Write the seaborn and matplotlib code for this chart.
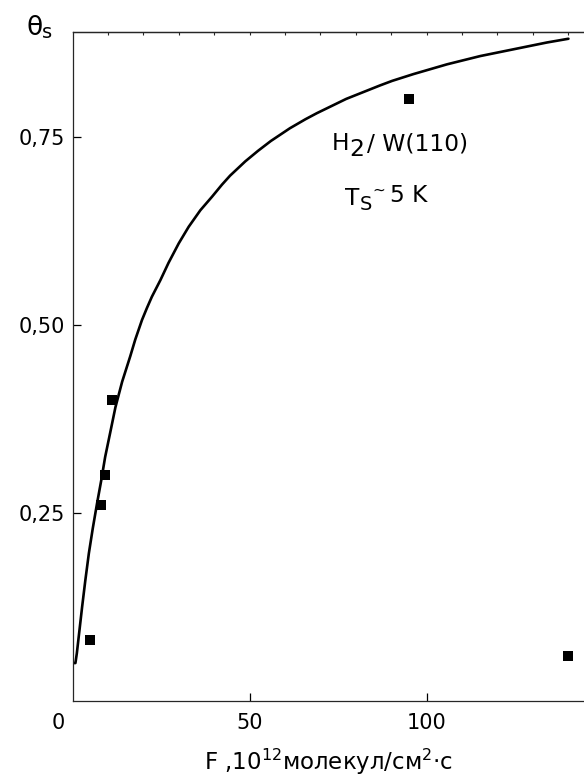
import numpy as np
import pandas as pd
import seaborn as sns
import matplotlib.pyplot as plt
import matplotlib.transforms as mtrans
from matplotlib.ticker import FixedLocator

# fitted curve
curve_F = [0, 0.8, 1.2, 2.7, 3.6, 4.6, 5.7, 6.9, 8.1, 9.2, 10.7, 12.1, 14.0,
           16.3, 17.7, 19.6, 21.0, 22.4, 24.8, 27.1, 30.0, 32.8, 36.1, 39.4,
           42.2, 44.5, 48.8, 52.4, 56.0, 61.4, 65.8, 69.0, 77.3, 86.9, 90.3,
           96.3, 105.8, 115.2, 124.6, 134.0, 140.1]
curve_theta = [0.050, 0.050, 0.063, 0.125, 0.160, 0.196, 0.229, 0.262, 0.293,
               0.324, 0.358, 0.390, 0.424, 0.458, 0.480, 0.506, 0.522, 0.537,
               0.559, 0.582, 0.608, 0.630, 0.652, 0.670, 0.686, 0.698, 0.717,
               0.731, 0.744, 0.761, 0.773, 0.781, 0.800, 0.818, 0.824, 0.833,
               0.846, 0.857, 0.866, 0.875, 0.880]

# measured points
pts_F = [4.9, 8.0, 9.2, 11.1, 95.0, 140.0]
pts_theta = [0.08, 0.26, 0.30, 0.40, 0.80, 0.06]

yticks = [0.25, 0.50, 0.75]
ytick_labels = ["0,25", "0,50", "0,75"]
xticks = [0, 50, 100]
xtick_labels = ["0", "50", "100"]
top_ticks = [10, 20, 30, 40, 50, 60, 70, 80, 90, 100, 110, 120, 130, 140]

curve = pd.DataFrame({"F": curve_F, "theta": curve_theta})
pts = pd.DataFrame({"F": pts_F, "theta": pts_theta})

sns.set_style("ticks")
plt.rcParams["font.family"] = ["DejaVu Sans"]
plt.rcParams["text.color"] = "black"
plt.rcParams["axes.labelcolor"] = "black"

fig = plt.figure(figsize=(5.84, 7.78), dpi=100)
ax = fig.add_axes([0.1243, 0.0994, 0.8757, 0.8595])

sns.lineplot(data=curve, x="F", y="theta", sort=False, estimator=None,
             color="black", linewidth=1.9, ax=ax)
sns.scatterplot(data=pts, x="F", y="theta", marker="s", s=52, color="black",
                edgecolor="black", linewidth=0, ax=ax, zorder=3)

ax.set_xlim(0, 144.5)
ax.set_ylim(0, 0.889)
ax.spines["right"].set_visible(False)
for s in ["left", "bottom", "top"]:
    ax.spines[s].set_linewidth(0.9)

ax.set_xticks(xticks)
ax.set_xticklabels(xtick_labels)
ax.set_yticks(yticks)
ax.set_yticklabels(ytick_labels)
ax.tick_params(direction="in", length=6, width=0.9, labelsize=15,
               colors="black")
ax.tick_params(axis="x", pad=9)
ax.tick_params(axis="y", pad=5.5)
ax.xaxis.get_major_ticks()[0].tick1line.set_visible(False)
# the zero label sits left of the corner
lab0 = ax.get_xticklabels()[0]
lab0.set_transform(lab0.get_transform() + mtrans.ScaledTranslation(-0.145, 0, fig.dpi_scale_trans))

top = ax.secondary_xaxis("top")
top.xaxis.set_major_locator(FixedLocator(top_ticks))
top.tick_params(direction="in", length=1.8, width=0.8, labeltop=False)
top.spines["top"].set_linewidth(0.9)

ax.set_xlabel("F ,10$^{\\mathregular{12}}$молекул/см$^{\\mathregular{2}}$·с",
              fontsize=16.5, labelpad=10)
ax.set_ylabel("")

# θs in the corner
fig.text(27 / 584, 1 - 35 / 778, "θ", fontsize=19, ha="left", va="baseline")
fig.text(42 / 584, 1 - 37.5 / 778, "s", fontsize=14, ha="left", va="baseline")

# annotation H2 / W(110), pieces chained along one baseline
fs = 16.8
h_base = 0.732
t1 = ax.text(73.2, h_base, "H", fontsize=fs, ha="left", va="baseline")
t2 = ax.annotate("2", xy=(1, h_base), xycoords=(t1, "data"), xytext=(0.3, -4.5),
                 textcoords="offset points", fontsize=fs, ha="left", va="baseline")
ax.annotate("/ W(110)", xy=(1, h_base), xycoords=(t2, "data"), xytext=(1.5, 0),
            textcoords="offset points", fontsize=fs, ha="left", va="baseline")

# T_S ~ 5 K
t_base = 0.659
u1 = ax.text(77.0, t_base, "T", fontsize=fs, ha="left", va="baseline")
u2 = ax.annotate("S", xy=(1, t_base), xycoords=(u1, "data"), xytext=(0.2, -3.6),
                 textcoords="offset points", fontsize=14, ha="left", va="baseline")
u3 = ax.annotate("~", xy=(1, t_base), xycoords=(u2, "data"), xytext=(0.5, 7.5),
                 textcoords="offset points", fontsize=11, ha="left", va="baseline")
ax.annotate("5 K", xy=(1, t_base), xycoords=(u3, "data"), xytext=(3.0, 2.2),
            textcoords="offset points", fontsize=fs, ha="left", va="baseline")

fig.savefig("out.png", dpi=100)
